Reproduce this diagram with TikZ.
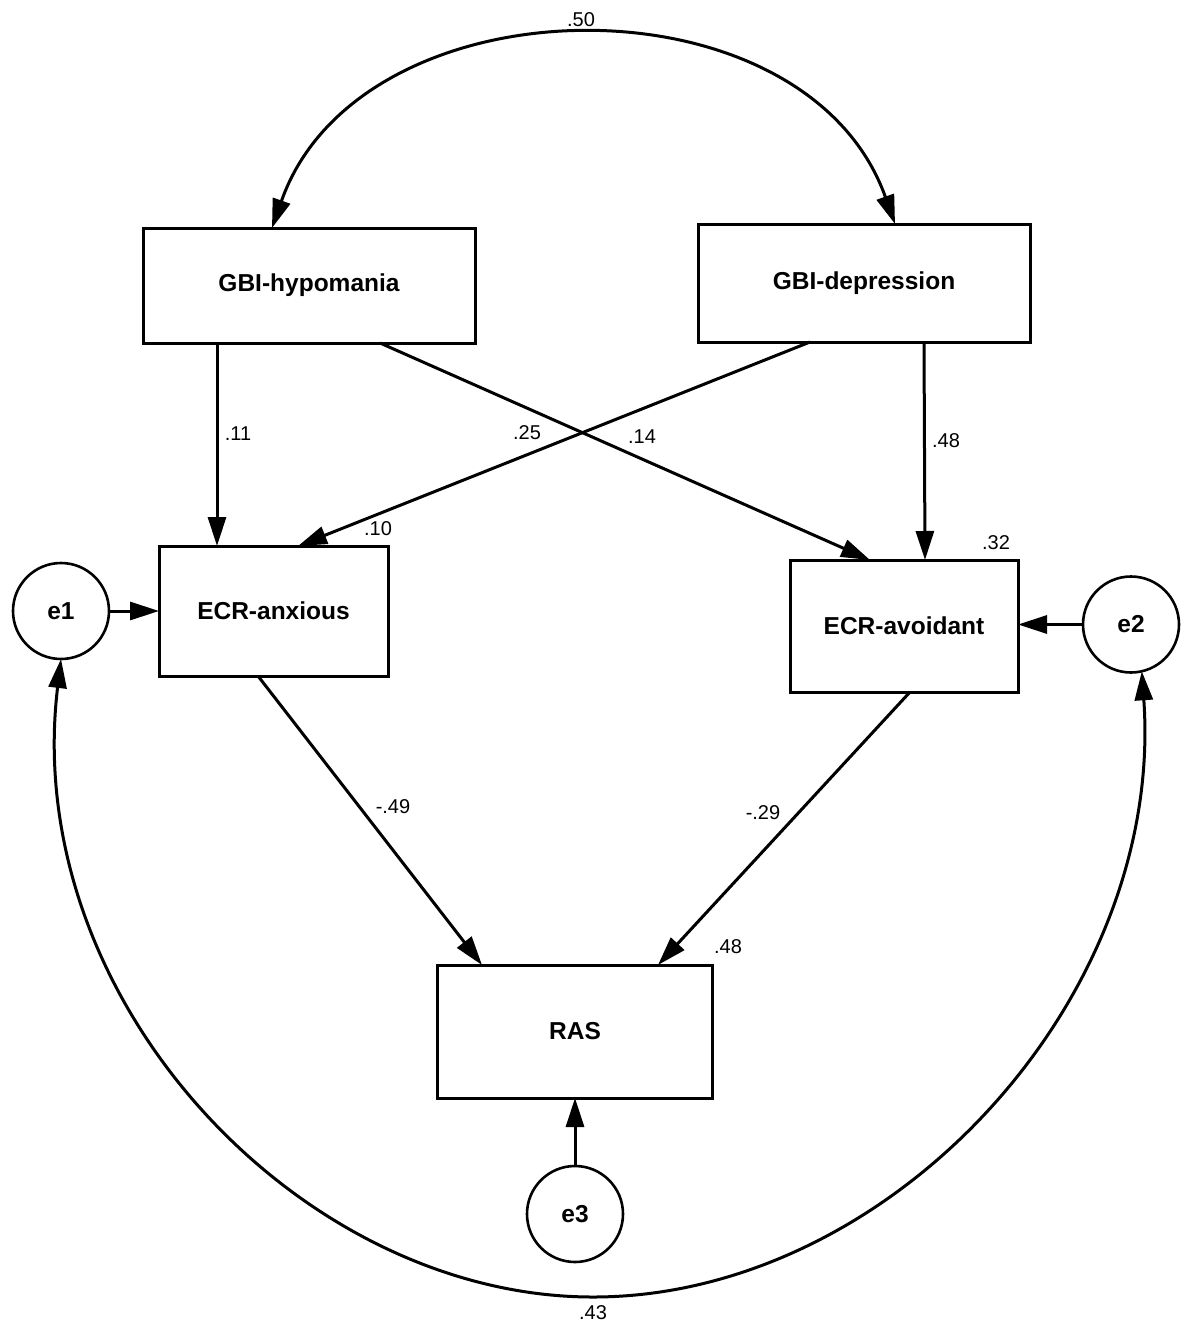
\documentclass[tikz,border=0pt]{standalone}
\usepackage{fontspec}
\setmainfont{Liberation Sans}
\usetikzlibrary{arrows.meta}
\begin{document}
\begin{tikzpicture}[x=1pt,y=-1pt,
  every node/.style={inner sep=0pt,outer sep=0pt},
  obsbox/.style={draw,rectangle,line width=3pt,font=\fontsize{24.5}{30}\selectfont\bfseries},
  errc/.style={draw,circle,line width=2.6pt,minimum size=96pt,font=\fontsize{24.5}{30}\selectfont\bfseries},
  coef/.style={font=\fontsize{20}{24}\selectfont},
  tip/.tip={Triangle[length=29pt,width=18pt]},
  regpath/.style={line width=3pt,-tip},
  covpath/.style={line width=3pt,tip-tip}
]
\fill[white] (0,0) rectangle (1189,1327);
\useasboundingbox (0,0) rectangle (1189,1327);

% observed variables
\node[obsbox,minimum width=332pt,minimum height=115pt] (GBIh) at (309,285.5) {GBI-hypomania};
\node[obsbox,minimum width=332pt,minimum height=118pt] (GBId) at (864,283) {GBI-depression};
\node[obsbox,minimum width=229pt,minimum height=130pt] (ECRa) at (273.5,611) {ECR-anxious};
\node[obsbox,minimum width=228pt,minimum height=132pt] (ECRv) at (904,626) {ECR-avoidant};
\node[obsbox,minimum width=275pt,minimum height=133pt] (RAS) at (575,1031.5) {RAS};

% error terms
\node[errc] (e1) at (61,611) {e1};
\node[errc] (e2) at (1131,624.5) {e2};
\node[errc] (e3) at (575,1214) {e3};

% covariance between the two GBI scales
\draw[covpath] ([xshift=-37pt]GBIh.north) .. controls (360,-23) and (805,-29) .. ([xshift=31pt]GBId.north);

% regression paths
\draw[regpath] ([xshift=-92pt]GBIh.south) -- ([xshift=-56.5pt]ECRa.north);
\draw[regpath] ([xshift=71pt]GBIh.south) -- ([xshift=-34pt]ECRv.north);
\draw[regpath] ([xshift=-54pt]GBId.south) -- ([xshift=24.5pt]ECRa.north);
\draw[regpath] ([xshift=60pt]GBId.south) -- ([xshift=21pt]ECRv.north);
\draw[regpath] ([xshift=-15.5pt]ECRa.south) -- ([xshift=-93pt]RAS.north);
\draw[regpath] ([xshift=6pt]ECRv.south) -- ([xshift=83pt]RAS.north);

% error paths
\draw[regpath] (e1) -- (ECRa);
\draw[regpath] (e2.west) -- (e2.west -| ECRv.east);
\draw[regpath] (e3) -- (RAS);

% covariance between e1 and e2
\coordinate (lowmid) at (593,1297);
\draw[covpath] (e1.south) .. controls (20,1000) and (300,1297) .. (lowmid)
  .. controls (890,1297) and (1165,1000) .. (e2.-77);

% coefficients
\node[coef] (c50) at (581,20) {.50};
\node[coef] (c11) at (238,434) {.11};
\node[coef] (c25) at (527,433) {.25};
\node[coef] (c14) at (642,437) {.14};
\node[coef] (c48a) at (946,441) {.48};
\node[coef] (c10) at (378,529) {.10};
\node[coef] (c32) at (996,543) {.32};
\node[coef] (c49) at (393,807) {-.49};
\node[coef] (c29) at (763,813) {-.29};
\node[coef] (c48b) at (728,947) {.48};
\node[coef] (c43) at (593,1313) {.43};
\end{tikzpicture}
\end{document}
